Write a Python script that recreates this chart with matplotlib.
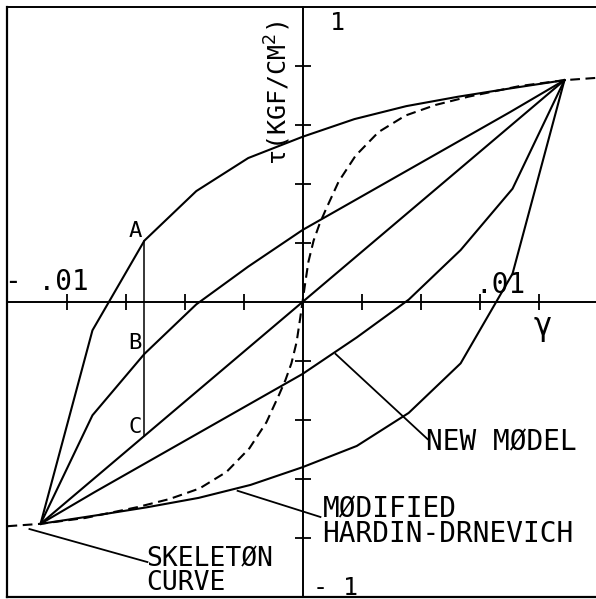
import matplotlib
matplotlib.use("Agg")
import matplotlib.pyplot as plt

plt.rcParams["font.family"] = ["DejaVu Sans Mono", "DejaVu Sans"]
plt.rcParams["lines.scale_dashes"] = False

# shear strain gamma, shear stress tau (kgf/cm2)
tip_gamma = [-0.0111, 0.0111]
tip_tau = [-0.94, 0.94]

# modified Hardin-Drnevich loop (outer)
hd_gamma_up = [-0.0111, -0.0089, -0.0067, -0.0045, -0.0023, 0.0, 0.0022, 0.0044, 0.0066, 0.0088, 0.0111]
hd_tau_up = [-0.94, -0.12, 0.26, 0.47, 0.61, 0.70, 0.775, 0.83, 0.87, 0.905, 0.94]
hd_gamma_down = [0.0111, 0.0089, 0.0067, 0.0045, 0.0023, 0.0, -0.0022, -0.0044, -0.0066, -0.0088, -0.0111]
hd_tau_down = [0.94, 0.12, -0.26, -0.47, -0.61, -0.70, -0.775, -0.83, -0.87, -0.905, -0.94]

# new model loop
nm_gamma_up = [-0.0111, -0.0089, -0.0067, -0.0045, -0.0023, 0.0, 0.0022, 0.0044, 0.0066, 0.0088, 0.0111]
nm_tau_up = [-0.94, -0.48, -0.22, -0.01, 0.15, 0.305, 0.43, 0.555, 0.68, 0.805, 0.94]
nm_gamma_down = [0.0111, 0.0089, 0.0067, 0.0045, 0.0023, 0.0, -0.0022, -0.0044, -0.0066, -0.0088, -0.0111]
nm_tau_down = [0.94, 0.48, 0.22, 0.01, -0.15, -0.305, -0.43, -0.555, -0.68, -0.805, -0.94]

# skeleton curve
skel_gamma = [-0.0125, -0.0111, -0.0092, -0.00703, -0.00564, -0.00436, -0.00322, -0.00225,
              -0.00153, -0.00098, -0.00072, -0.00047, -0.00025, -0.0001, 0.0,
              0.0001, 0.00025, 0.00047, 0.00072, 0.00098, 0.00153, 0.00225,
              0.00322, 0.00436, 0.00564, 0.00703, 0.0092, 0.0111, 0.0125]
skel_tau = [-0.95, -0.94, -0.915, -0.87, -0.835, -0.79, -0.72, -0.62,
            -0.51, -0.39, -0.33, -0.26, -0.17, -0.07, 0.0,
            0.07, 0.17, 0.26, 0.33, 0.39, 0.51, 0.62,
            0.72, 0.79, 0.835, 0.87, 0.915, 0.94, 0.95]

x_ticks = [-0.01, -0.0075, -0.005, -0.0025, 0.0025, 0.005, 0.0075, 0.01]
y_ticks = [-1.0, -0.75, -0.5, -0.25, 0.25, 0.5, 0.75, 1.0]

fig = plt.figure(figsize=(5.96, 5.99), dpi=100)
ax = fig.add_axes([7.5 / 596, 2 / 599, 590 / 596, 590 / 599])
ax.set_xlim(-0.0125, 0.0125)
ax.set_ylim(-1.25, 1.25)

for side in ["left", "bottom"]:
    ax.spines[side].set_position(("data", 0))
for sp in ax.spines.values():
    sp.set_linewidth(1.4)
# outer box edges that the moved spines no longer draw
ax.plot([0, 0], [0, 1], transform=ax.transAxes, color="black", lw=1.6, clip_on=False)
ax.plot([0, 1], [0, 0], transform=ax.transAxes, color="black", lw=1.6, clip_on=False)

ax.set_xticks(x_ticks)
ax.set_yticks(y_ticks)
ax.tick_params(direction="inout", length=11, width=1.3, labelleft=False, labelbottom=False)

lw = 1.5
ax.plot(hd_gamma_up, hd_tau_up, color="black", lw=lw)
ax.plot(hd_gamma_down, hd_tau_down, color="black", lw=lw)
ax.plot(nm_gamma_up, nm_tau_up, color="black", lw=lw)
ax.plot(nm_gamma_down, nm_tau_down, color="black", lw=lw)
ax.plot(tip_gamma, tip_tau, color="black", lw=lw)
ax.plot(skel_gamma, skel_tau, color="black", lw=lw, dashes=(7, 4))

# A-B-C section line
g_abc = hd_gamma_up[2]
tau_c = g_abc * tip_tau[1] / tip_gamma[1]
ax.plot([g_abc, g_abc], [hd_tau_up[2], tau_c], color="black", lw=1.1)
ax.text(g_abc - 0.0001, 0.30, "A", fontsize=16, ha="right", va="center")
ax.text(g_abc - 0.0001, -0.175, "B", fontsize=16, ha="right", va="center")
ax.text(g_abc - 0.0001, -0.53, "C", fontsize=16, ha="right", va="center")

# leaders
ax.plot([0.0014, 0.0053], [-0.22, -0.581], color="black", lw=1.3)
ax.plot([-0.00275, 0.00076], [-0.80, -0.911], color="black", lw=1.3)
ax.plot([-0.01157, -0.00657], [-0.962, -1.102], color="black", lw=1.3)

ax.text(0.00525, -0.593, "NEW MØDEL", fontsize=20, ha="left", va="center")
ax.text(0.00085, -0.93, "MØDIFIED\nHARDIN-DRNEVICH", fontsize=20, ha="left", va="center",
        linespacing=0.83)
ax.text(-0.0066, -1.14, "SKELETØN\nCURVE", fontsize=19, ha="left", va="center",
        linespacing=0.85)

# axis annotations
ax.text(-0.00106, 0.886, "τ(KGF/CM$^2$)", fontsize=18, rotation=90, ha="center", va="center")
ax.text(0.01017, -0.106, "γ", fontsize=22, ha="center", va="center")
ax.text(0.00148, 1.182, "1", fontsize=18, ha="center", va="center")
ax.text(0.00138, -1.212, "- 1", fontsize=18, ha="center", va="center")
ax.text(-0.01085, 0.085, "- .01", fontsize=20, ha="center", va="center")
ax.text(0.00839, 0.072, ".01", fontsize=20, ha="center", va="center")

fig.savefig("out.png", dpi=100, facecolor="white")
